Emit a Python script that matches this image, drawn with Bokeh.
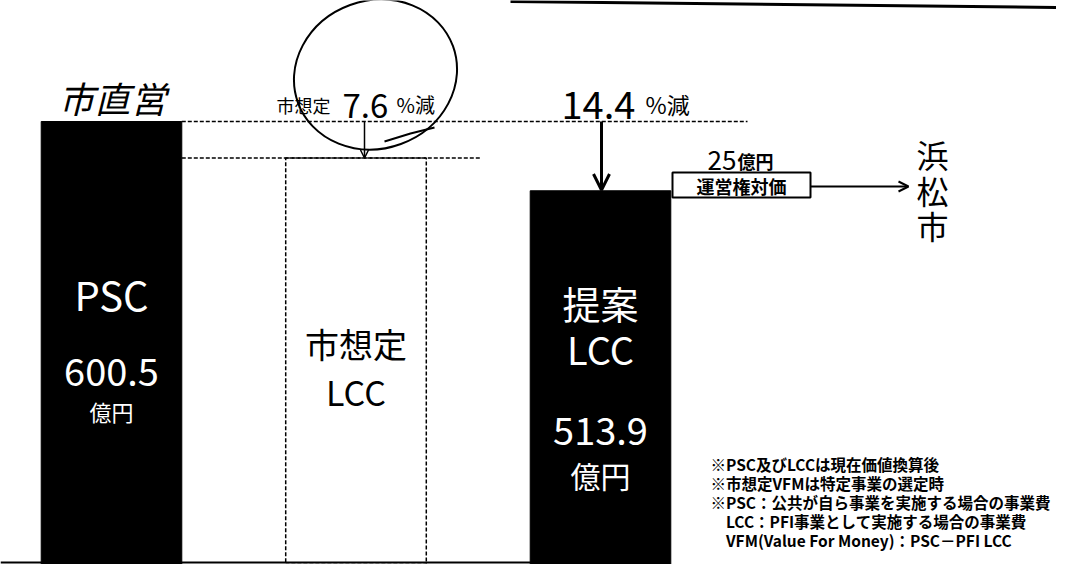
from bokeh.plotting import figure
from bokeh.models import Range1d, Arrow, OpenHead
from bokeh.core.properties import value
from bokeh.embed import file_html
from bokeh.resources import INLINE

# ---- data ----
categories = ["PSC", "市想定LCC", "提案LCC"]
values = [600.5, 554.9, 513.9]          # 億円
reductions = ["7.6", "14.4"]             # %減
operating_right = "25"                   # 億円
notes = [
    "※PSC及びLCCは現在価値換算後",
    "※市想定VFMは特定事業の選定時",
    "※PSC：公共が自ら事業を実施する場合の事業費",
    "　LCC：PFI事業として実施する場合の事業費",
    "　VFM(Value For Money)：PSC－PFI LCC",
]

FONT = "Noto Sans CJK JP"
W, H = 1056, 564

# pixel helpers (picture pixel -> data)  x: bar index, y: 億円
X0, XS = 111.0, 244.5
YA, YB = 601.4, 0.80
def X(px):
    return (px - X0) / XS
def Y(py):
    return (YA - py) / YB

p = figure(width=W, height=H, output_backend="svg", toolbar_location=None,
           x_range=Range1d(X(0), X(W)), y_range=Range1d(Y(H), Y(0)),
           min_border=0)
p.axis.visible = False
p.grid.visible = False
p.outline_line_color = None
p.background_fill_color = "white"
p.border_fill_color = "white"

idx = list(range(len(categories)))
bw = 0.575
# solid bars
p.vbar(x=[idx[0], idx[2]], top=[values[0], values[2]], bottom=0, width=bw,
       fill_color="black", line_color="black")
# city-assumed LCC (dashed outline)
p.vbar(x=[idx[1]], top=[values[1]], bottom=0, width=bw,
       fill_color="white", line_color="black", line_dash="4 2", line_width=1.5)

# baseline
p.line([X(0), X(556)], [Y(562), Y(562)], line_color="black", line_width=2)

# dashed reference lines
p.line([idx[0] + bw / 2, X(747)], [values[0], values[0]], line_color="black",
       line_dash="4 2", line_width=1.5)
p.line([idx[0] + bw / 2, X(480)], [values[1], values[1]], line_color="black",
       line_dash="4 2", line_width=1.5)

# arrows
p.add_layout(Arrow(x_start=X(364), y_start=values[0], x_end=X(364), y_end=values[1],
                   line_width=1.5, end=OpenHead(size=8, line_width=1.5)))
p.add_layout(Arrow(x_start=X(601), y_start=values[0], x_end=X(601), y_end=values[2] + 1,
                   line_width=3, end=OpenHead(size=16, line_width=3)))

# operating right box
p.quad(left=[X(672)], right=[X(810)], top=[Y(172)], bottom=[Y(197)],
       fill_color="white", line_color="black", line_width=2)
p.add_layout(Arrow(x_start=X(810), y_start=Y(186), x_end=X(908), y_end=Y(186),
                   line_width=2, end=OpenHead(size=10, line_width=2)))

def txt(x, y, s, size, color="black", align="center", baseline="middle",
        style="normal"):
    p.text(x=[x], y=[y], text=[s], text_font=value(FONT),
           text_font_size=f"{size}px", text_color=color, text_align=align,
           text_baseline=baseline, text_font_style=style)

# labels inside bars
txt(idx[0], Y(293), "PSC", 40, "white")
txt(idx[0], Y(371), f"{values[0]}", 38, "white")
txt(idx[0], Y(410), "億円", 22, "white")
txt(idx[1], Y(343), "市想定", 34)
txt(idx[1], Y(391), "LCC", 34)
txt(idx[2], Y(302), "提案", 38, "white")
txt(idx[2], Y(348), "LCC", 38, "white")
txt(idx[2], Y(430), f"{values[2]}", 38, "white")
txt(idx[2], Y(474), "億円", 30, "white")

# reduction labels
txt(X(276), Y(104), "市想定", 18, align="left", baseline="alphabetic")
txt(X(342), Y(105), reductions[0], 33, align="left", baseline="alphabetic")
txt(X(396), Y(104), "%減", 20, align="left", baseline="alphabetic")
txt(X(561), Y(104), reductions[1], 38, align="left", baseline="alphabetic")
txt(X(645), Y(103), "%減", 23, align="left", baseline="alphabetic")

# operating right
txt(X(707), Y(160), operating_right, 26, align="left", baseline="alphabetic")
txt(X(737), Y(160), "億円", 18, align="left", baseline="alphabetic", style="bold")
txt(X(741), Y(185), "運営権対価", 18, style="bold")

# 浜松市 vertical
for ch, py in zip("浜松市", [153, 189, 224]):
    txt(X(932), Y(py), ch, 32)

# handwritten annotation
txt(X(112), Y(96), "市直営", 36, style="italic")
p.ellipse(x=[X(375)], y=[Y(74)], width=[165], height=[148], angle=[0.35],
          width_units="screen", height_units="screen",
          fill_color=None, line_color="black", line_width=2)
p.line([X(384), X(410), X(434)], [Y(141), Y(133), Y(127)], line_color="black",
       line_width=2)

# notes
for i, s in enumerate(notes):
    txt(X(710), Y(463 + 19 * i), s, 15.5, align="left", style="bold")

# scan edge line at top
p.line([X(510), X(W)], [Y(1), Y(7)], line_color="black", line_width=3)

open("out.html", "w").write(file_html(p, INLINE))
